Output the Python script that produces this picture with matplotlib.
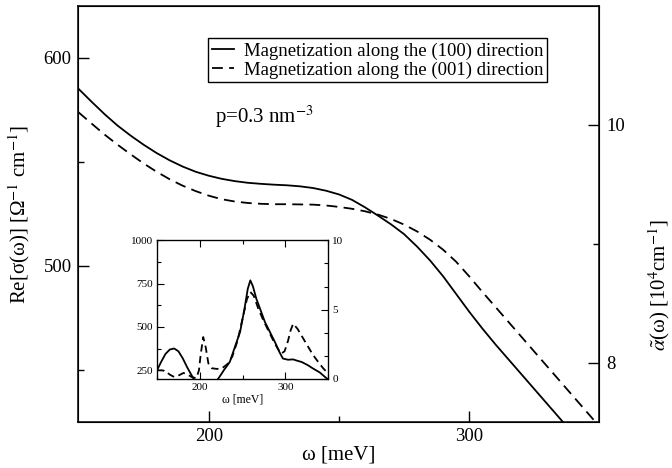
import matplotlib
matplotlib.use("Agg")
import matplotlib.pyplot as plt

plt.rcParams["font.family"] = ["Liberation Serif", "DejaVu Serif"]
plt.rcParams["mathtext.fontset"] = "stix"

# main panel: Re[sigma] vs omega, every 5 meV
omega_main = [150, 155, 160, 165, 170, 175, 180, 185, 190, 195, 200, 205,
              210, 215, 220, 225, 230, 235, 240, 245, 250, 255, 260, 265,
              270, 275, 280, 285, 290, 295, 300, 305, 310, 315, 320, 325,
              330, 335, 340, 345, 350]
sigma_100 = [585.2, 579.0, 573.0, 567.5, 562.7, 558.3, 554.3, 550.8, 547.8,
             545.3, 543.4, 541.9, 540.8, 540.0, 539.5, 539.1, 538.8, 538.3,
             537.5, 536.2, 534.4, 531.8, 528.2, 524.2, 520.0, 515.3, 509.3,
             502.6, 495.0, 486.5, 478.0, 470.0, 462.4, 455.2, 448.0, 440.8,
             433.6, 426.4, 419.2, 412.0, 404.8]
sigma_001 = [573.9, 568.5, 563.2, 558.3, 553.7, 549.3, 545.3, 541.7, 538.6,
             536.0, 533.8, 532.1, 531.0, 530.3, 529.9, 529.7, 529.7, 529.6,
             529.5, 529.1, 528.4, 527.5, 526.3, 524.7, 522.6, 519.9, 516.6,
             512.6, 507.8, 502.0, 495.0, 487.6, 480.4, 473.2, 466.0, 458.8,
             451.6, 444.4, 437.2, 430.0, 422.8]

# inset: full spectrum
ins_omega_100 = [150, 155, 160, 165, 170, 175, 180, 185, 190, 193, 200, 210,
                 218, 222, 228, 235, 241, 247, 252, 256, 259, 262, 266, 270,
                 276, 282, 288, 293, 297, 303, 309, 314, 319, 326, 333, 340,
                 348, 350]
ins_val_100 = [250, 300, 345, 370, 376, 360, 320, 270, 225, 200, 150, 140,
               180, 205, 250, 298, 385, 471, 600, 720, 769, 735, 663, 610,
               529, 470, 410, 355, 318, 311, 313, 305, 298, 280, 258, 238,
               204, 198]
ins_omega_001 = [150, 156, 160, 165, 170, 176, 181, 186, 191, 196, 199, 201,
                 204, 207, 210, 214, 220, 226, 232, 238, 244, 250, 255, 259,
                 263, 268, 274, 280, 286, 291, 295, 299, 303, 306, 309, 314,
                 320, 326, 332, 338, 344, 350]
ins_val_001 = [250, 250, 245, 225, 212, 222, 235, 225, 210, 205, 250, 340,
               442, 380, 290, 262, 258, 262, 285, 330, 420, 550, 660, 702,
               680, 610, 540, 480, 420, 375, 346, 360, 420, 480, 519, 490,
               440, 390, 340, 300, 262, 231]

LABEL_100 = "Magnetization along the (100) direction"
LABEL_001 = "Magnetization along the (001) direction"

fig = plt.figure(figsize=(6.72, 4.68), dpi=100)
ax = fig.add_axes([0.1168, 0.0983, 0.7753, 0.8889])
ax.plot(omega_main, sigma_100, color="black", lw=1.3, label=LABEL_100)
ax.plot(omega_main, sigma_001, color="black", lw=1.3, dashes=(6, 3.5),
        label=LABEL_001)
ax.set_xlim(150, 350)
ax.set_ylim(425, 625)
ax.set_xticks([200, 300])
ax.set_xticks([250], minor=True)
ax.set_yticks([500, 600])
ax.set_yticks([450, 550], minor=True)
ax.tick_params(which="both", direction="in", width=1.0, labelsize=13.5,
               top=False, right=False)
ax.tick_params(which="major", length=8)
ax.tick_params(which="minor", length=4)
ax.tick_params(axis="y", pad=5)
ax.tick_params(axis="x", pad=4)
for s in ax.spines.values():
    s.set_linewidth(1.1)
ax.set_xlabel("ω [meV]", fontsize=15, labelpad=1)
ax.set_ylabel("Re[σ(ω)] [Ω$^{-1}$ cm$^{-1}$]", fontsize=15)
ax.yaxis.set_label_coords(-0.09, 0.499)

ax2 = ax.twinx()
ax2.set_ylim(7.5, 11)
ax2.set_yticks([8, 10])
ax2.set_yticks([9], minor=True)
ax2.tick_params(which="both", direction="in", width=1.0, labelsize=13.5,
                pad=5)
ax2.tick_params(which="major", length=8)
ax2.tick_params(which="minor", length=4)
ax2.set_ylabel(r"$\tilde{\alpha}$(ω) [10$^{4}$cm$^{-1}$]", fontsize=15)
ax2.yaxis.set_label_coords(1.09, 0.33)

leg = ax.legend(loc="upper left", bbox_to_anchor=(0.249, 0.922),
                fontsize=13.5, frameon=True, fancybox=False, framealpha=1,
                edgecolor="black", borderpad=0.2, borderaxespad=0,
                handlelength=1.2, handletextpad=0.5, labelspacing=0.1)
leg.get_frame().set_linewidth(1.0)

ax.text(0.262, 0.719, "p=0.3 nm$^{-3}$", transform=ax.transAxes,
        fontsize=15, va="baseline", ha="left")

# inset
ins = fig.add_axes([0.2336, 0.1902, 0.2549, 0.2963])
ins.plot(ins_omega_100, ins_val_100, color="black", lw=1.3)
ins.plot(ins_omega_001, ins_val_001, color="black", lw=1.3, dashes=(4, 2.5))
ins.set_xlim(150, 350)
ins.set_ylim(200, 1000)
ins.set_xticks([200, 300])
ins.set_xticks([150, 250, 350], minor=True)
ins.set_yticks([250, 500, 750, 1000])
ins.set_yticks([375, 625, 875], minor=True)
ins.tick_params(which="both", direction="in", width=0.8, labelsize=8,
                top=True, right=False, pad=3)
ins.tick_params(which="major", length=5)
ins.tick_params(which="minor", length=3)
for s in ins.spines.values():
    s.set_linewidth(0.9)
ins.set_xlabel("ω [meV]", fontsize=8.5, labelpad=1)

ins2 = ins.twinx()
ins2.set_ylim(0, 10)
ins2.set_yticks([0, 5, 10])
ins2.set_yticks([5 / 3, 10 / 3, 20 / 3, 25 / 3], minor=True)
ins2.tick_params(which="both", direction="in", width=0.8, labelsize=8, pad=3)
ins2.tick_params(which="major", length=5)
ins2.tick_params(which="minor", length=3)

fig.savefig("out.png", dpi=100)
